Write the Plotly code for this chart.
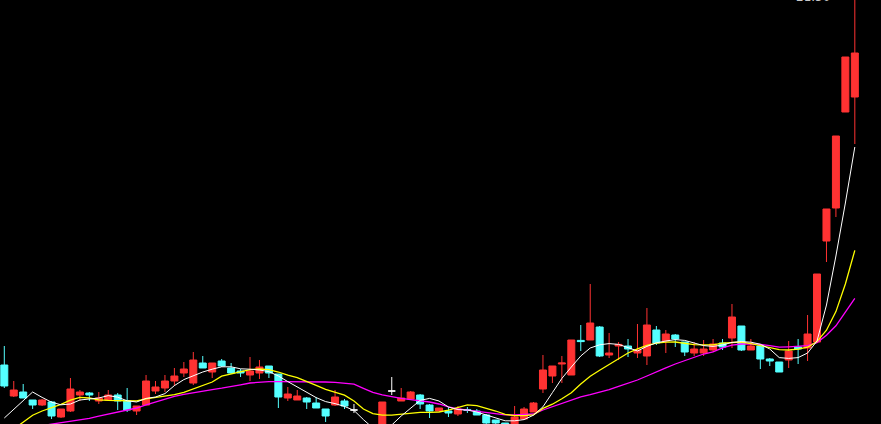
import plotly.graph_objects as go

# ---- data (price per trading day) ----
day = list(range(91))

opens = [12.375, 11.60, 11.70, 11.50, 11.375, 11.45, 11.075, 11.225, 11.625, 11.675,
         11.475, 11.50, 11.625, 11.475, 11.225, 11.375, 11.725, 11.80, 11.975, 12.175,
         11.925, 12.425, 12.20, 12.475, 12.30, 12.225, 12.125, 12.175, 12.35, 12.15,
         11.55, 11.50, 11.55, 11.425, 11.275, 11.375, 11.475, 11.25, 10.30, 10.10,
         10.25, 11.725, 11.475, 11.525, 11.625, 11.375, 11.225, 11.225, 11.15, 11.26,
         11.225, 11.125, 11.00, 10.925, 10.80, 11.025, 11.20, 11.775, 12.10, 12.40,
         12.125, 12.99, 13.00, 13.325, 12.625, 12.85, 12.85, 12.675, 12.60, 13.25,
         12.975, 13.125, 12.95, 12.675, 12.675, 12.75, 12.925, 13.05, 13.35, 12.75,
         12.85, 12.525, 12.45, 12.50, 12.825, 12.80, 12.95, 15.475, 16.30, 18.70,
         19.075]

highs = [12.85, 11.975, 11.90, 11.50, 11.525, 11.475, 11.275, 12.05, 11.75, 11.70,
         11.70, 11.75, 11.675, 11.80, 11.35, 12.125, 11.975, 12.125, 12.30, 12.45,
         12.70, 12.60, 12.425, 12.525, 12.425, 12.275, 12.575, 12.50, 12.35, 12.15,
         11.825, 11.75, 11.575, 11.575, 11.275, 11.75, 11.525, 11.40, 10.35, 10.40,
         11.45, 12.075, 11.80, 11.725, 11.65, 11.40, 11.30, 11.325, 11.35, 11.325,
         11.275, 11.15, 11.00, 10.925, 11.35, 11.325, 11.45, 12.625, 12.35, 12.60,
         13.00, 13.375, 14.40, 13.35, 13.175, 12.95, 13.025, 13.40, 13.80, 13.35,
         13.25, 13.15, 12.95, 12.95, 13.00, 13.025, 13.025, 13.90, 13.35, 13.025,
         12.85, 12.55, 12.45, 12.975, 13.025, 13.625, 14.65, 16.275, 18.10, 20.075,
         21.50]

lows = [11.80, 11.575, 11.55, 11.275, 11.35, 11.025, 11.05, 11.20, 11.475, 11.475,
        11.40, 11.50, 11.25, 11.20, 11.125, 11.375, 11.65, 11.70, 11.85, 12.075,
        11.875, 12.30, 12.05, 12.325, 12.15, 12.075, 11.975, 12.025, 12.05, 11.30,
        11.475, 11.50, 11.275, 11.30, 10.95, 11.35, 11.275, 11.175, 10.10, 9.95,
        10.20, 11.625, 11.475, 11.525, 11.275, 11.05, 11.225, 11.075, 11.10, 11.175,
        11.125, 10.90, 10.90, 10.70, 10.75, 11.00, 11.20, 11.675, 11.925, 11.925,
        12.125, 12.725, 13.00, 12.575, 12.55, 12.50, 12.575, 12.55, 12.375, 12.875,
        12.675, 12.825, 12.60, 12.60, 12.60, 12.70, 12.75, 12.80, 12.725, 12.75,
        12.275, 12.35, 12.20, 12.30, 12.40, 12.475, 12.95, 14.95, 16.075, 18.70,
        17.90]

closes = [11.85, 11.75, 11.55, 11.375, 11.50, 11.10, 11.275, 11.775, 11.70, 11.625,
          11.55, 11.625, 11.475, 11.25, 11.35, 11.975, 11.825, 11.975, 12.10, 12.275,
          12.50, 12.30, 12.425, 12.35, 12.175, 12.175, 12.225, 12.325, 12.175, 11.575,
          11.65, 11.60, 11.45, 11.30, 11.10, 11.575, 11.35, 11.25, 10.13, 10.20,
          11.45, 11.725, 11.55, 11.70, 11.40, 11.225, 11.30, 11.175, 11.275, 11.24,
          11.125, 10.925, 10.925, 10.75, 11.075, 11.275, 11.425, 12.25, 12.35, 12.425,
          13.00, 12.96, 13.425, 12.60, 12.675, 12.89, 12.775, 12.75, 13.375, 12.925,
          13.15, 13.025, 12.70, 12.775, 12.775, 12.90, 12.825, 13.575, 12.75, 12.85,
          12.525, 12.475, 12.20, 12.725, 12.775, 13.15, 14.65, 16.275, 18.10, 20.075,
          20.175]

ma5 = [11.05, 11.275, 11.50, 11.70, 11.565, 11.445, 11.38, 11.40, 11.50, 11.525,
       11.55, 11.61, 11.57, 11.48, 11.45, 11.54, 11.575, 11.66, 11.86, 12.01,
       12.11, 12.20, 12.27, 12.33, 12.33, 12.28, 12.27, 12.25, 12.21, 12.10,
       11.96, 11.825, 11.70, 11.56, 11.46, 11.41, 11.34, 11.24, 11.01, 10.80,
       10.75, 10.875, 11.10, 11.30, 11.49, 11.54, 11.475, 11.325, 11.26, 11.25,
       11.20, 11.125, 11.045, 10.98, 10.98, 11.01, 11.12, 11.33, 11.685, 12.04,
       12.325, 12.60, 12.80, 12.88, 12.91, 12.89, 12.81, 12.725, 12.84, 12.93,
       12.975, 13.01, 12.99, 12.925, 12.86, 12.84, 12.875, 12.94, 12.96, 12.945,
       12.895, 12.775, 12.56, 12.54, 12.56, 12.675, 12.975, 13.875, 15.10, 16.425,
       17.825]

ma10 = [10.60, 10.775, 10.95, 11.12, 11.225, 11.31, 11.39, 11.495, 11.565, 11.55,
        11.505, 11.49, 11.485, 11.48, 11.475, 11.53, 11.565, 11.59, 11.635, 11.69,
        11.78, 11.87, 11.95, 12.095, 12.155, 12.21, 12.26, 12.275, 12.26, 12.20,
        12.12, 12.06, 11.97, 11.865, 11.765, 11.70, 11.62, 11.475, 11.275, 11.16,
        11.12, 11.12, 11.14, 11.16, 11.19, 11.19, 11.20, 11.245, 11.31, 11.38,
        11.36, 11.30, 11.225, 11.14, 11.11, 11.11, 11.13, 11.29, 11.395, 11.53,
        11.68, 11.90, 12.095, 12.245, 12.39, 12.54, 12.675, 12.78, 12.865, 12.92,
        12.945, 12.95, 12.91, 12.885, 12.88, 12.88, 12.92, 12.94, 12.95, 12.91,
        12.865, 12.81, 12.76, 12.75, 12.77, 12.82, 12.96, 13.245, 13.71, 14.40,
        15.24]

ma20 = [10.70, 10.75, 10.79, 10.825, 10.86, 10.90, 10.935, 10.97, 11.00, 11.04,
        11.095, 11.15, 11.205, 11.25, 11.30, 11.38, 11.45, 11.52, 11.59, 11.64,
        11.685, 11.72, 11.76, 11.795, 11.83, 11.88, 11.925, 11.95, 11.96, 11.96,
        11.96, 11.96, 11.96, 11.96, 11.95, 11.94, 11.92, 11.895, 11.79, 11.69,
        11.63, 11.58, 11.54, 11.51, 11.48, 11.45, 11.40, 11.33, 11.28, 11.25,
        11.22, 11.19, 11.16, 11.13, 11.125, 11.13, 11.15, 11.25, 11.33, 11.42,
        11.50, 11.58, 11.635, 11.69, 11.76, 11.84, 11.92, 12.00, 12.10, 12.21,
        12.305, 12.40, 12.48, 12.57, 12.65, 12.705, 12.805, 12.87, 12.90, 12.90,
        12.89, 12.86, 12.82, 12.83, 12.84, 12.86, 12.935, 13.12, 13.355, 13.70,
        14.04]

high_label = "21.50"

# ---- styling ----
RED = "rgb(255,50,50)"
CYAN = "rgb(84,255,255)"
WHITE = "rgb(255,255,255)"


def subset(cond):
    idx = [i for i in range(len(day)) if cond(opens[i], closes[i])]
    return ([day[i] for i in idx], [opens[i] for i in idx], [highs[i] for i in idx],
            [lows[i] for i in idx], [closes[i] for i in idx])


fig = go.Figure()
for cond, col in [(lambda o, c: c > o, RED), (lambda o, c: c < o, CYAN), (lambda o, c: c == o, WHITE)]:
    x, o, h, l, c = subset(cond)
    fig.add_trace(go.Candlestick(
        x=x, open=o, high=h, low=l, close=c,
        increasing=dict(line=dict(color=col, width=1), fillcolor=col),
        decreasing=dict(line=dict(color=col, width=1), fillcolor=col),
        whiskerwidth=0, hoverinfo="skip", showlegend=False))

fig.add_trace(go.Scatter(x=day, y=ma20, mode="lines", line=dict(color="rgb(255,0,255)", width=1.3),
                         hoverinfo="skip", showlegend=False))
fig.add_trace(go.Scatter(x=day, y=ma10, mode="lines", line=dict(color="rgb(255,255,0)", width=1.3),
                         hoverinfo="skip", showlegend=False))
fig.add_trace(go.Scatter(x=day, y=ma5, mode="lines", line=dict(color="rgb(255,255,255)", width=1),
                         hoverinfo="skip", showlegend=False))

fig.add_annotation(x=day[-1], xref="x", y=1, yref="paper", text=high_label, showarrow=False,
                   xanchor="right", yanchor="bottom", xshift=-23, yshift=-6,
                   font=dict(family="DejaVu Sans", size=12, color="rgb(200,200,200)"))

fig.update_layout(
    width=881, height=424,
    margin=dict(l=0, r=0, t=0, b=0),
    paper_bgcolor="black", plot_bgcolor="black",
    boxgap=0.26, boxgroupgap=0,
    xaxis=dict(visible=False, range=[-0.455, 92.77], rangeslider=dict(visible=False), fixedrange=True),
    yaxis=dict(visible=False, range=[10.9, 21.5], fixedrange=True),
    showlegend=False,
)

fig.write_html(
    "out.html",
    config={"displayModeBar": False},
    post_script="document.body.style.margin='0';document.body.style.overflow='hidden';"
                "document.body.style.background='black';",
)
